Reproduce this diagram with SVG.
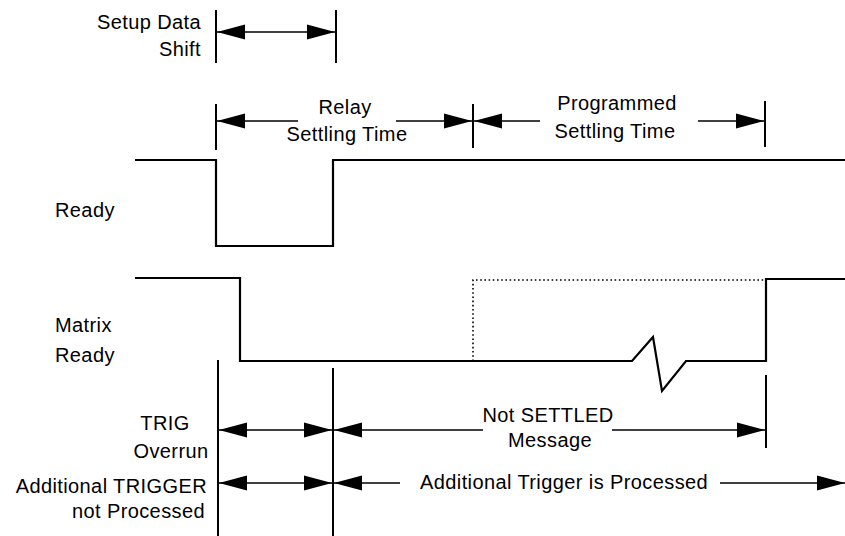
<svg xmlns="http://www.w3.org/2000/svg" width="845" height="536" viewBox="0 0 845 536">
<style>
  .t { font-family: "Liberation Sans", Arial, sans-serif; font-size: 20px; fill: #000; letter-spacing: 0.4px; }
  .m { text-anchor: middle; }
  .e { text-anchor: end; }
  .sig { fill: none; stroke: #000; stroke-width: 2.2; stroke-linejoin: miter; }
  .dot { fill: none; stroke: #000; stroke-width: 1.6; stroke-dasharray: 1.6 2.6; }
  .v { stroke: #000; stroke-width: 2; }
  .a { stroke: #000; stroke-width: 1.6; fill: none; }
  .ab { marker-start: url(#ah); marker-end: url(#ah); }
  .as { marker-start: url(#ah); }
  .ae { marker-end: url(#ah); }
</style>
<defs>
  <marker id="ah" viewBox="0 0 28 18" refX="28" refY="9" markerWidth="28" markerHeight="18" markerUnits="userSpaceOnUse" orient="auto-start-reverse">
    <path d="M0,1.5 L28,9 L0,16.5 z" fill="#000"/>
  </marker>
</defs>
<rect width="845" height="536" fill="#fff"/>

<g id="labels">
  <text class="t e" x="201" y="29">Setup Data</text>
  <text class="t e" x="201" y="56">Shift</text>
  <text class="t" x="55" y="217">Ready</text>
  <text class="t" x="55" y="332">Matrix</text>
  <text class="t" x="55" y="362">Ready</text>
  <text class="t m" x="165" y="430">TRIG</text>
  <text class="t m" x="171" y="458">Overrun</text>
  <text class="t e" x="207" y="493">Additional TRIGGER</text>
  <text class="t e" x="205" y="518">not Processed</text>
</g>

<g id="ready-signal">
  <polyline class="sig" points="135,160 216,160 216,246 333,246 333,160 845,160"/>
</g>

<g id="matrix-ready-signal">
  <polyline class="sig" points="135,278 240,278 240,361 632,361 653,337 662,391 686,361 766,361 766,279 845,279"/>
  <polyline class="dot" points="473,361 473,280 766,280"/>
</g>

<g id="setup-data-shift">
  <line class="v" x1="216" y1="10" x2="216" y2="63"/>
  <line class="v" x1="336" y1="10" x2="336" y2="63"/>
  <line class="a ab" x1="217" y1="32" x2="335" y2="32"/>
</g>

<g id="relay-settling-time">
  <line class="v" x1="216" y1="104" x2="216" y2="150"/>
  <line class="v" x1="473" y1="104" x2="473" y2="148"/>
  <line class="a as" x1="217" y1="121" x2="298" y2="121"/>
  <line class="a ae" x1="396" y1="121" x2="472" y2="121"/>
  <text class="t m" x="345" y="114">Relay</text>
  <text class="t m" x="347" y="141">Settling Time</text>
</g>

<g id="programmed-settling-time">
  <line class="v" x1="765" y1="101" x2="765" y2="147"/>
  <line class="a as" x1="474" y1="121" x2="540" y2="121"/>
  <line class="a ae" x1="698" y1="121" x2="764" y2="121"/>
  <text class="t m" x="617" y="110">Programmed</text>
  <text class="t m" x="615" y="138">Settling Time</text>
</g>

<g id="connectors">
  <line class="v" x1="218" y1="360" x2="218" y2="536"/>
  <line class="v" x1="333" y1="368" x2="333" y2="536"/>
  <line class="v" x1="766" y1="375" x2="766" y2="448"/>
  <line class="a ab" x1="219" y1="430" x2="332" y2="430"/>
  <line class="a as" x1="334" y1="430" x2="483" y2="430"/>
  <line class="a ae" x1="612" y1="430" x2="765" y2="430"/>
  <line class="a ab" x1="219" y1="483" x2="332" y2="483"/>
  <line class="a as" x1="334" y1="483" x2="400" y2="483"/>
  <line class="a ae" x1="720" y1="483" x2="845" y2="483"/>
</g>

<g id="not-settled">
  <text class="t m" x="548" y="422">Not SETTLED</text>
  <text class="t m" x="550" y="447">Message</text>
</g>

<g id="additional-trigger">
  <text class="t" x="420" y="489">Additional Trigger is Processed</text>
</g>
</svg>
